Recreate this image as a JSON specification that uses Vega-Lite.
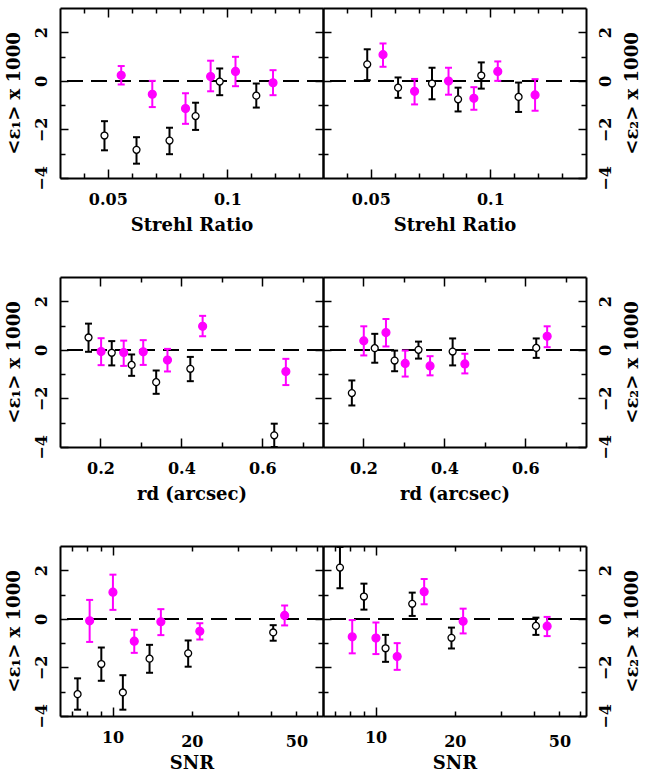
{
  "$schema": "https://vega.github.io/schema/vega-lite/v6.json",
  "padding": {"left": 5, "top": 7, "right": 5, "bottom": 5},
  "background": "white",
  "datasets": {
    "s1": [
      {"x": 0.0486, "y": -2.25, "lo": -2.86, "hi": -1.66, "grp": "o"},
      {"x": 0.062, "y": -2.84, "lo": -3.41, "hi": -2.32, "grp": "o"},
      {"x": 0.0758, "y": -2.46, "lo": -3.02, "hi": -1.93, "grp": "o"},
      {"x": 0.0867, "y": -1.45, "lo": -2.02, "hi": -0.9, "grp": "o"},
      {"x": 0.0968, "y": -0.03, "lo": -0.59, "hi": 0.51, "grp": "o"},
      {"x": 0.1121, "y": -0.61, "lo": -1.1, "hi": -0.11, "grp": "o"},
      {"x": 0.0556, "y": 0.23, "lo": -0.15, "hi": 0.61, "grp": "m"},
      {"x": 0.0686, "y": -0.55, "lo": -1.08, "hi": 0.0, "grp": "m"},
      {"x": 0.0825, "y": -1.14, "lo": -1.77, "hi": -0.51, "grp": "m"},
      {"x": 0.093, "y": 0.18, "lo": -0.43, "hi": 0.83, "grp": "m"},
      {"x": 0.1034, "y": 0.39, "lo": -0.22, "hi": 0.99, "grp": "m"},
      {"x": 0.1191, "y": -0.08, "lo": -0.59, "hi": 0.44, "grp": "m"}
    ],
    "s2": [
      {"x": 0.0485, "y": 0.68, "lo": 0.03, "hi": 1.3, "grp": "o"},
      {"x": 0.0614, "y": -0.28, "lo": -0.7, "hi": 0.14, "grp": "o"},
      {"x": 0.0756, "y": -0.11, "lo": -0.76, "hi": 0.54, "grp": "o"},
      {"x": 0.0865, "y": -0.76, "lo": -1.26, "hi": -0.28, "grp": "o"},
      {"x": 0.0962, "y": 0.22, "lo": -0.32, "hi": 0.76, "grp": "o"},
      {"x": 0.1118, "y": -0.66, "lo": -1.28, "hi": -0.07, "grp": "o"},
      {"x": 0.0551, "y": 1.08, "lo": 0.58, "hi": 1.54, "grp": "m"},
      {"x": 0.0683, "y": -0.43, "lo": -0.97, "hi": 0.08, "grp": "m"},
      {"x": 0.0825, "y": -0.01, "lo": -0.57, "hi": 0.54, "grp": "m"},
      {"x": 0.0931, "y": -0.72, "lo": -1.19, "hi": -0.26, "grp": "m"},
      {"x": 0.1031, "y": 0.39, "lo": 0.0, "hi": 0.8, "grp": "m"},
      {"x": 0.1187, "y": -0.58, "lo": -1.23, "hi": 0.07, "grp": "m"}
    ],
    "r1": [
      {"x": 0.1705, "y": 0.51, "lo": -0.08, "hi": 1.08, "grp": "o"},
      {"x": 0.2279, "y": -0.12, "lo": -0.64, "hi": 0.36, "grp": "o"},
      {"x": 0.277, "y": -0.62, "lo": -1.07, "hi": -0.19, "grp": "o"},
      {"x": 0.3377, "y": -1.33, "lo": -1.81, "hi": -0.85, "grp": "o"},
      {"x": 0.4221, "y": -0.78, "lo": -1.29, "hi": -0.29, "grp": "o"},
      {"x": 0.6295, "y": -3.52, "lo": -4.0, "hi": -3.04, "grp": "o"},
      {"x": 0.2016, "y": -0.07, "lo": -0.63, "hi": 0.48, "grp": "m"},
      {"x": 0.2574, "y": -0.11, "lo": -0.66, "hi": 0.38, "grp": "m"},
      {"x": 0.3057, "y": -0.08, "lo": -0.62, "hi": 0.4, "grp": "m"},
      {"x": 0.3656, "y": -0.42, "lo": -0.89, "hi": 0.04, "grp": "m"},
      {"x": 0.4525, "y": 0.97, "lo": 0.56, "hi": 1.4, "grp": "m"},
      {"x": 0.6582, "y": -0.89, "lo": -1.45, "hi": -0.37, "grp": "m"}
    ],
    "r2": [
      {"x": 0.1713, "y": -1.78, "lo": -2.29, "hi": -1.26, "grp": "o"},
      {"x": 0.2279, "y": 0.07, "lo": -0.53, "hi": 0.66, "grp": "o"},
      {"x": 0.277, "y": -0.44, "lo": -0.88, "hi": -0.03, "grp": "o"},
      {"x": 0.336, "y": 0.0, "lo": -0.36, "hi": 0.34, "grp": "o"},
      {"x": 0.4204, "y": -0.07, "lo": -0.64, "hi": 0.47, "grp": "o"},
      {"x": 0.627, "y": 0.08, "lo": -0.33, "hi": 0.47, "grp": "o"},
      {"x": 0.2008, "y": 0.37, "lo": -0.23, "hi": 0.97, "grp": "m"},
      {"x": 0.2556, "y": 0.71, "lo": 0.14, "hi": 1.27, "grp": "m"},
      {"x": 0.3031, "y": -0.56, "lo": -1.1, "hi": -0.03, "grp": "m"},
      {"x": 0.3646, "y": -0.66, "lo": -1.05, "hi": -0.26, "grp": "m"},
      {"x": 0.4506, "y": -0.58, "lo": -0.97, "hi": -0.16, "grp": "m"},
      {"x": 0.654, "y": 0.56, "lo": 0.11, "hi": 0.97, "grp": "m"}
    ],
    "n1": [
      {"x": 7.36, "y": -3.1, "lo": -3.74, "hi": -2.45, "grp": "o"},
      {"x": 9.06, "y": -1.86, "lo": -2.55, "hi": -1.18, "grp": "o"},
      {"x": 10.94, "y": -3.03, "lo": -3.74, "hi": -2.32, "grp": "o"},
      {"x": 13.82, "y": -1.64, "lo": -2.22, "hi": -1.07, "grp": "o"},
      {"x": 19.38, "y": -1.42, "lo": -1.97, "hi": -0.89, "grp": "o"},
      {"x": 40.8, "y": -0.56, "lo": -0.9, "hi": -0.26, "grp": "o"},
      {"x": 8.18, "y": -0.08, "lo": -0.95, "hi": 0.78, "grp": "m"},
      {"x": 10.03, "y": 1.1, "lo": 0.37, "hi": 1.82, "grp": "m"},
      {"x": 12.09, "y": -0.92, "lo": -1.4, "hi": -0.45, "grp": "m"},
      {"x": 15.26, "y": -0.12, "lo": -0.67, "hi": 0.4, "grp": "m"},
      {"x": 21.46, "y": -0.51, "lo": -0.85, "hi": -0.18, "grp": "m"},
      {"x": 45.1, "y": 0.14, "lo": -0.27, "hi": 0.55, "grp": "m"}
    ],
    "n2": [
      {"x": 7.32, "y": 2.11, "lo": 1.26, "hi": 2.96, "grp": "o"},
      {"x": 9.03, "y": 0.92, "lo": 0.38, "hi": 1.45, "grp": "o"},
      {"x": 10.91, "y": -1.21, "lo": -1.77, "hi": -0.66, "grp": "o"},
      {"x": 13.78, "y": 0.62, "lo": 0.12, "hi": 1.08, "grp": "o"},
      {"x": 19.43, "y": -0.78, "lo": -1.22, "hi": -0.36, "grp": "o"},
      {"x": 40.7, "y": -0.29, "lo": -0.66, "hi": 0.05, "grp": "o"},
      {"x": 8.15, "y": -0.74, "lo": -1.42, "hi": -0.05, "grp": "m"},
      {"x": 10.03, "y": -0.79, "lo": -1.45, "hi": -0.15, "grp": "m"},
      {"x": 12.08, "y": -1.55, "lo": -2.1, "hi": -1.0, "grp": "m"},
      {"x": 15.3, "y": 1.12, "lo": 0.6, "hi": 1.64, "grp": "m"},
      {"x": 21.52, "y": -0.1, "lo": -0.6, "hi": 0.42, "grp": "m"},
      {"x": 44.9, "y": -0.3, "lo": -0.71, "hi": 0.08, "grp": "m"}
    ]
  },
  "vconcat": [
    {
      "hconcat": [
        {
          "width": 263, "height": 170,
          "data": {"name": "s1"},
          "resolve": {"axis": {"x": "independent", "y": "independent"}},
          "layer": [
            {"mark": {"type": "rule", "strokeDash": [16, 8], "strokeWidth": 1.5, "color": "black"},
             "encoding": {"y": {"datum": 0, "type": "quantitative", "scale": {"domain": [-4, 3], "nice": false, "zero": false}, "axis": null}}},
            {"mark": {"type": "rule", "strokeWidth": 2},
             "encoding": {
               "x": {"field": "x", "type": "quantitative", "scale": {"domain": [0.03, 0.14], "nice": false, "zero": false},
                     "axis": {"orient": "bottom", "title": "Strehl Ratio", "values": [0.04, 0.05, 0.06, 0.07, 0.08, 0.09, 0.1, 0.11, 0.12, 0.13],
                              "labelExpr": "abs(datum.value-0.05)<1e-6 ? '0.05' : (abs(datum.value-0.1)<1e-6 ? '0.1' : '')",
                              "tickSize": {"condition": {"test": "abs(datum.value-0.05)<1e-6 || abs(datum.value-0.1)<1e-6", "value": -9}, "value": -5},
                              "labelPadding": 22, "titlePadding": 5}},
               "y": {"field": "lo", "type": "quantitative", "scale": {"domain": [-4, 3], "nice": false, "zero": false},
                     "axis": {"orient": "left", "title": "<ε₁> x 1000", "values": [-4, -3, -2, -1, 0, 1, 2],
                              "labelExpr": "datum.value % 2 == 0 ? datum.label : ''",
                              "tickSize": {"condition": {"test": "datum.value % 2 == 0", "value": -8}, "value": -5},
                              "labelAngle": 270, "labelAlign": "center", "labelBaseline": "bottom", "labelPadding": 19, "titlePadding": 7}},
               "y2": {"field": "hi"},
               "stroke": {"condition": {"test": "datum.grp == 'o'", "value": "black"}, "value": "#ff00ff"}}},
            {"mark": {"type": "tick", "orient": "horizontal", "size": 7, "thickness": 2, "opacity": 1},
             "encoding": {"x": {"field": "x", "type": "quantitative", "axis": null}, "y": {"field": "lo", "type": "quantitative", "axis": null},
                          "color": {"condition": {"test": "datum.grp == 'o'", "value": "black"}, "value": "#ff00ff"}}},
            {"mark": {"type": "tick", "orient": "horizontal", "size": 7, "thickness": 2, "opacity": 1},
             "encoding": {"x": {"field": "x", "type": "quantitative", "axis": null}, "y": {"field": "hi", "type": "quantitative", "axis": null},
                          "color": {"condition": {"test": "datum.grp == 'o'", "value": "black"}, "value": "#ff00ff"}}},
            {"mark": {"type": "point", "shape": "circle", "opacity": 1, "strokeWidth": 1.3},
             "encoding": {
               "x": {"field": "x", "type": "quantitative",
                     "axis": {"orient": "top", "labels": false, "title": null, "values": [0.04, 0.05, 0.06, 0.07, 0.08, 0.09, 0.1, 0.11, 0.12, 0.13],
                              "tickSize": {"condition": {"test": "abs(datum.value-0.05)<1e-6 || abs(datum.value-0.1)<1e-6", "value": -9}, "value": -5}}},
               "y": {"field": "y", "type": "quantitative",
                     "axis": {"orient": "right", "labels": false, "title": null, "values": [-3, -2, -1, 0, 1, 2],
                              "tickSize": {"condition": {"test": "datum.value % 2 == 0", "value": -8}, "value": -5}}},
               "fill": {"condition": {"test": "datum.grp == 'o'", "value": "white"}, "value": "#ff00ff"},
               "stroke": {"condition": {"test": "datum.grp == 'o'", "value": "black"}, "value": "#ff00ff"},
               "size": {"condition": {"test": "datum.grp == 'o'", "value": 48}, "value": 62}}}
          ]
        },
        {
          "width": 263, "height": 170,
          "data": {"name": "s2"},
          "resolve": {"axis": {"x": "independent", "y": "independent"}},
          "layer": [
            {"mark": {"type": "rule", "strokeDash": [16, 8], "strokeWidth": 1.5, "color": "black"},
             "encoding": {"y": {"datum": 0, "type": "quantitative", "scale": {"domain": [-4, 3], "nice": false, "zero": false}, "axis": null}}},
            {"mark": {"type": "rule", "strokeWidth": 2},
             "encoding": {
               "x": {"field": "x", "type": "quantitative", "scale": {"domain": [0.03, 0.14], "nice": false, "zero": false},
                     "axis": {"orient": "bottom", "title": "Strehl Ratio", "values": [0.04, 0.05, 0.06, 0.07, 0.08, 0.09, 0.1, 0.11, 0.12, 0.13],
                              "labelExpr": "abs(datum.value-0.05)<1e-6 ? '0.05' : (abs(datum.value-0.1)<1e-6 ? '0.1' : '')",
                              "tickSize": {"condition": {"test": "abs(datum.value-0.05)<1e-6 || abs(datum.value-0.1)<1e-6", "value": -9}, "value": -5},
                              "labelPadding": 22, "titlePadding": 5}},
               "y": {"field": "lo", "type": "quantitative", "scale": {"domain": [-4, 3], "nice": false, "zero": false},
                     "axis": {"orient": "left", "labels": false, "title": null, "values": [-3, -2, -1, 0, 1, 2],
                              "tickSize": {"condition": {"test": "datum.value % 2 == 0", "value": -8}, "value": -5}}},
               "y2": {"field": "hi"},
               "stroke": {"condition": {"test": "datum.grp == 'o'", "value": "black"}, "value": "#ff00ff"}}},
            {"mark": {"type": "tick", "orient": "horizontal", "size": 7, "thickness": 2, "opacity": 1},
             "encoding": {"x": {"field": "x", "type": "quantitative", "axis": null}, "y": {"field": "lo", "type": "quantitative", "axis": null},
                          "color": {"condition": {"test": "datum.grp == 'o'", "value": "black"}, "value": "#ff00ff"}}},
            {"mark": {"type": "tick", "orient": "horizontal", "size": 7, "thickness": 2, "opacity": 1},
             "encoding": {"x": {"field": "x", "type": "quantitative", "axis": null}, "y": {"field": "hi", "type": "quantitative", "axis": null},
                          "color": {"condition": {"test": "datum.grp == 'o'", "value": "black"}, "value": "#ff00ff"}}},
            {"mark": {"type": "point", "shape": "circle", "opacity": 1, "strokeWidth": 1.3},
             "encoding": {
               "x": {"field": "x", "type": "quantitative",
                     "axis": {"orient": "top", "labels": false, "title": null, "values": [0.04, 0.05, 0.06, 0.07, 0.08, 0.09, 0.1, 0.11, 0.12, 0.13],
                              "tickSize": {"condition": {"test": "abs(datum.value-0.05)<1e-6 || abs(datum.value-0.1)<1e-6", "value": -9}, "value": -5}}},
               "y": {"field": "y", "type": "quantitative",
                     "axis": {"orient": "right", "title": "<ε₂> x 1000", "values": [-4, -3, -2, -1, 0, 1, 2],
                              "labelExpr": "datum.value % 2 == 0 ? datum.label : ''",
                              "tickSize": {"condition": {"test": "datum.value % 2 == 0", "value": -8}, "value": -5},
                              "labelAngle": 270, "labelAlign": "center", "labelBaseline": "top", "labelPadding": 19,
                              "titleAngle": 270, "titleBaseline": "top", "titlePadding": 7}},
               "fill": {"condition": {"test": "datum.grp == 'o'", "value": "white"}, "value": "#ff00ff"},
               "stroke": {"condition": {"test": "datum.grp == 'o'", "value": "black"}, "value": "#ff00ff"},
               "size": {"condition": {"test": "datum.grp == 'o'", "value": 48}, "value": 62}}}
          ]
        }
      ],
      "spacing": 0, "bounds": "flush"
    },
    {
      "hconcat": [
        {
          "width": 263, "height": 170,
          "data": {"name": "r1"},
          "resolve": {"axis": {"x": "independent", "y": "independent"}},
          "layer": [
            {"mark": {"type": "rule", "strokeDash": [16, 8], "strokeWidth": 1.5, "color": "black"},
             "encoding": {"y": {"datum": 0, "type": "quantitative", "scale": {"domain": [-4, 3], "nice": false, "zero": false}, "axis": null}}},
            {"mark": {"type": "rule", "strokeWidth": 2},
             "encoding": {
               "x": {"field": "x", "type": "quantitative", "scale": {"domain": [0.1, 0.75], "nice": false, "zero": false},
                     "axis": {"orient": "bottom", "title": "rd (arcsec)", "values": [0.2, 0.3, 0.4, 0.5, 0.6, 0.7],
                              "labelExpr": "abs(datum.value-0.2)<1e-6 ? '0.2' : (abs(datum.value-0.4)<1e-6 ? '0.4' : (abs(datum.value-0.6)<1e-6 ? '0.6' : ''))",
                              "tickSize": {"condition": {"test": "abs(datum.value-0.2)<1e-6 || abs(datum.value-0.4)<1e-6 || abs(datum.value-0.6)<1e-6", "value": -9}, "value": -5},
                              "labelPadding": 22, "titlePadding": 5}},
               "y": {"field": "lo", "type": "quantitative", "scale": {"domain": [-4, 3], "nice": false, "zero": false},
                     "axis": {"orient": "left", "title": "<ε₁> x 1000", "values": [-4, -3, -2, -1, 0, 1, 2],
                              "labelExpr": "datum.value % 2 == 0 ? datum.label : ''",
                              "tickSize": {"condition": {"test": "datum.value % 2 == 0", "value": -8}, "value": -5},
                              "labelAngle": 270, "labelAlign": "center", "labelBaseline": "bottom", "labelPadding": 19, "titlePadding": 7}},
               "y2": {"field": "hi"},
               "stroke": {"condition": {"test": "datum.grp == 'o'", "value": "black"}, "value": "#ff00ff"}}},
            {"mark": {"type": "tick", "orient": "horizontal", "size": 7, "thickness": 2, "opacity": 1},
             "encoding": {"x": {"field": "x", "type": "quantitative", "axis": null}, "y": {"field": "lo", "type": "quantitative", "axis": null},
                          "color": {"condition": {"test": "datum.grp == 'o'", "value": "black"}, "value": "#ff00ff"}}},
            {"mark": {"type": "tick", "orient": "horizontal", "size": 7, "thickness": 2, "opacity": 1},
             "encoding": {"x": {"field": "x", "type": "quantitative", "axis": null}, "y": {"field": "hi", "type": "quantitative", "axis": null},
                          "color": {"condition": {"test": "datum.grp == 'o'", "value": "black"}, "value": "#ff00ff"}}},
            {"mark": {"type": "point", "shape": "circle", "opacity": 1, "strokeWidth": 1.3},
             "encoding": {
               "x": {"field": "x", "type": "quantitative",
                     "axis": {"orient": "top", "labels": false, "title": null, "values": [0.2, 0.3, 0.4, 0.5, 0.6, 0.7],
                              "tickSize": {"condition": {"test": "abs(datum.value-0.2)<1e-6 || abs(datum.value-0.4)<1e-6 || abs(datum.value-0.6)<1e-6", "value": -9}, "value": -5}}},
               "y": {"field": "y", "type": "quantitative",
                     "axis": {"orient": "right", "labels": false, "title": null, "values": [-3, -2, -1, 0, 1, 2],
                              "tickSize": {"condition": {"test": "datum.value % 2 == 0", "value": -8}, "value": -5}}},
               "fill": {"condition": {"test": "datum.grp == 'o'", "value": "white"}, "value": "#ff00ff"},
               "stroke": {"condition": {"test": "datum.grp == 'o'", "value": "black"}, "value": "#ff00ff"},
               "size": {"condition": {"test": "datum.grp == 'o'", "value": 48}, "value": 62}}}
          ]
        },
        {
          "width": 263, "height": 170,
          "data": {"name": "r2"},
          "resolve": {"axis": {"x": "independent", "y": "independent"}},
          "layer": [
            {"mark": {"type": "rule", "strokeDash": [16, 8], "strokeWidth": 1.5, "color": "black"},
             "encoding": {"y": {"datum": 0, "type": "quantitative", "scale": {"domain": [-4, 3], "nice": false, "zero": false}, "axis": null}}},
            {"mark": {"type": "rule", "strokeWidth": 2},
             "encoding": {
               "x": {"field": "x", "type": "quantitative", "scale": {"domain": [0.1, 0.75], "nice": false, "zero": false},
                     "axis": {"orient": "bottom", "title": "rd (arcsec)", "values": [0.2, 0.3, 0.4, 0.5, 0.6, 0.7],
                              "labelExpr": "abs(datum.value-0.2)<1e-6 ? '0.2' : (abs(datum.value-0.4)<1e-6 ? '0.4' : (abs(datum.value-0.6)<1e-6 ? '0.6' : ''))",
                              "tickSize": {"condition": {"test": "abs(datum.value-0.2)<1e-6 || abs(datum.value-0.4)<1e-6 || abs(datum.value-0.6)<1e-6", "value": -9}, "value": -5},
                              "labelPadding": 22, "titlePadding": 5}},
               "y": {"field": "lo", "type": "quantitative", "scale": {"domain": [-4, 3], "nice": false, "zero": false},
                     "axis": {"orient": "left", "labels": false, "title": null, "values": [-3, -2, -1, 0, 1, 2],
                              "tickSize": {"condition": {"test": "datum.value % 2 == 0", "value": -8}, "value": -5}}},
               "y2": {"field": "hi"},
               "stroke": {"condition": {"test": "datum.grp == 'o'", "value": "black"}, "value": "#ff00ff"}}},
            {"mark": {"type": "tick", "orient": "horizontal", "size": 7, "thickness": 2, "opacity": 1},
             "encoding": {"x": {"field": "x", "type": "quantitative", "axis": null}, "y": {"field": "lo", "type": "quantitative", "axis": null},
                          "color": {"condition": {"test": "datum.grp == 'o'", "value": "black"}, "value": "#ff00ff"}}},
            {"mark": {"type": "tick", "orient": "horizontal", "size": 7, "thickness": 2, "opacity": 1},
             "encoding": {"x": {"field": "x", "type": "quantitative", "axis": null}, "y": {"field": "hi", "type": "quantitative", "axis": null},
                          "color": {"condition": {"test": "datum.grp == 'o'", "value": "black"}, "value": "#ff00ff"}}},
            {"mark": {"type": "point", "shape": "circle", "opacity": 1, "strokeWidth": 1.3},
             "encoding": {
               "x": {"field": "x", "type": "quantitative",
                     "axis": {"orient": "top", "labels": false, "title": null, "values": [0.2, 0.3, 0.4, 0.5, 0.6, 0.7],
                              "tickSize": {"condition": {"test": "abs(datum.value-0.2)<1e-6 || abs(datum.value-0.4)<1e-6 || abs(datum.value-0.6)<1e-6", "value": -9}, "value": -5}}},
               "y": {"field": "y", "type": "quantitative",
                     "axis": {"orient": "right", "title": "<ε₂> x 1000", "values": [-4, -3, -2, -1, 0, 1, 2],
                              "labelExpr": "datum.value % 2 == 0 ? datum.label : ''",
                              "tickSize": {"condition": {"test": "datum.value % 2 == 0", "value": -8}, "value": -5},
                              "labelAngle": 270, "labelAlign": "center", "labelBaseline": "top", "labelPadding": 19,
                              "titleAngle": 270, "titleBaseline": "top", "titlePadding": 7}},
               "fill": {"condition": {"test": "datum.grp == 'o'", "value": "white"}, "value": "#ff00ff"},
               "stroke": {"condition": {"test": "datum.grp == 'o'", "value": "black"}, "value": "#ff00ff"},
               "size": {"condition": {"test": "datum.grp == 'o'", "value": 48}, "value": 62}}}
          ]
        }
      ],
      "spacing": 0, "bounds": "flush"
    },
    {
      "hconcat": [
        {
          "width": 263, "height": 170,
          "data": {"name": "n1"},
          "resolve": {"axis": {"x": "independent", "y": "independent"}},
          "layer": [
            {"mark": {"type": "rule", "strokeDash": [16, 8], "strokeWidth": 1.5, "color": "black"},
             "encoding": {"y": {"datum": 0, "type": "quantitative", "scale": {"domain": [-4, 3], "nice": false, "zero": false}, "axis": null}}},
            {"mark": {"type": "rule", "strokeWidth": 2},
             "encoding": {
               "x": {"field": "x", "type": "quantitative", "scale": {"type": "log", "domain": [6.31, 63.1], "nice": false},
                     "axis": {"orient": "bottom", "title": "SNR", "values": [7, 8, 9, 10, 20, 30, 40, 50, 60],
                              "labelExpr": "datum.value == 10 || datum.value == 20 || datum.value == 50 ? format(datum.value, 'd') : ''",
                              "tickSize": {"condition": {"test": "datum.value == 10", "value": -9}, "value": -5},
                              "labelPadding": 22, "titlePadding": 5}},
               "y": {"field": "lo", "type": "quantitative", "scale": {"domain": [-4, 3], "nice": false, "zero": false},
                     "axis": {"orient": "left", "title": "<ε₁> x 1000", "values": [-4, -3, -2, -1, 0, 1, 2],
                              "labelExpr": "datum.value % 2 == 0 ? datum.label : ''",
                              "tickSize": {"condition": {"test": "datum.value % 2 == 0", "value": -8}, "value": -5},
                              "labelAngle": 270, "labelAlign": "center", "labelBaseline": "bottom", "labelPadding": 19, "titlePadding": 7}},
               "y2": {"field": "hi"},
               "stroke": {"condition": {"test": "datum.grp == 'o'", "value": "black"}, "value": "#ff00ff"}}},
            {"mark": {"type": "tick", "orient": "horizontal", "size": 7, "thickness": 2, "opacity": 1},
             "encoding": {"x": {"field": "x", "type": "quantitative", "axis": null}, "y": {"field": "lo", "type": "quantitative", "axis": null},
                          "color": {"condition": {"test": "datum.grp == 'o'", "value": "black"}, "value": "#ff00ff"}}},
            {"mark": {"type": "tick", "orient": "horizontal", "size": 7, "thickness": 2, "opacity": 1},
             "encoding": {"x": {"field": "x", "type": "quantitative", "axis": null}, "y": {"field": "hi", "type": "quantitative", "axis": null},
                          "color": {"condition": {"test": "datum.grp == 'o'", "value": "black"}, "value": "#ff00ff"}}},
            {"mark": {"type": "point", "shape": "circle", "opacity": 1, "strokeWidth": 1.3},
             "encoding": {
               "x": {"field": "x", "type": "quantitative",
                     "axis": {"orient": "top", "labels": false, "title": null, "values": [7, 8, 9, 10, 20, 30, 40, 50, 60],
                              "tickSize": {"condition": {"test": "datum.value == 10", "value": -9}, "value": -5}}},
               "y": {"field": "y", "type": "quantitative",
                     "axis": {"orient": "right", "labels": false, "title": null, "values": [-3, -2, -1, 0, 1, 2],
                              "tickSize": {"condition": {"test": "datum.value % 2 == 0", "value": -8}, "value": -5}}},
               "fill": {"condition": {"test": "datum.grp == 'o'", "value": "white"}, "value": "#ff00ff"},
               "stroke": {"condition": {"test": "datum.grp == 'o'", "value": "black"}, "value": "#ff00ff"},
               "size": {"condition": {"test": "datum.grp == 'o'", "value": 48}, "value": 62}}}
          ]
        },
        {
          "width": 263, "height": 170,
          "data": {"name": "n2"},
          "resolve": {"axis": {"x": "independent", "y": "independent"}},
          "layer": [
            {"mark": {"type": "rule", "strokeDash": [16, 8], "strokeWidth": 1.5, "color": "black"},
             "encoding": {"y": {"datum": 0, "type": "quantitative", "scale": {"domain": [-4, 3], "nice": false, "zero": false}, "axis": null}}},
            {"mark": {"type": "rule", "strokeWidth": 2},
             "encoding": {
               "x": {"field": "x", "type": "quantitative", "scale": {"type": "log", "domain": [6.31, 63.1], "nice": false},
                     "axis": {"orient": "bottom", "title": "SNR", "values": [7, 8, 9, 10, 20, 30, 40, 50, 60],
                              "labelExpr": "datum.value == 10 || datum.value == 20 || datum.value == 50 ? format(datum.value, 'd') : ''",
                              "tickSize": {"condition": {"test": "datum.value == 10", "value": -9}, "value": -5},
                              "labelPadding": 22, "titlePadding": 5}},
               "y": {"field": "lo", "type": "quantitative", "scale": {"domain": [-4, 3], "nice": false, "zero": false},
                     "axis": {"orient": "left", "labels": false, "title": null, "values": [-3, -2, -1, 0, 1, 2],
                              "tickSize": {"condition": {"test": "datum.value % 2 == 0", "value": -8}, "value": -5}}},
               "y2": {"field": "hi"},
               "stroke": {"condition": {"test": "datum.grp == 'o'", "value": "black"}, "value": "#ff00ff"}}},
            {"mark": {"type": "tick", "orient": "horizontal", "size": 7, "thickness": 2, "opacity": 1},
             "encoding": {"x": {"field": "x", "type": "quantitative", "axis": null}, "y": {"field": "lo", "type": "quantitative", "axis": null},
                          "color": {"condition": {"test": "datum.grp == 'o'", "value": "black"}, "value": "#ff00ff"}}},
            {"mark": {"type": "tick", "orient": "horizontal", "size": 7, "thickness": 2, "opacity": 1},
             "encoding": {"x": {"field": "x", "type": "quantitative", "axis": null}, "y": {"field": "hi", "type": "quantitative", "axis": null},
                          "color": {"condition": {"test": "datum.grp == 'o'", "value": "black"}, "value": "#ff00ff"}}},
            {"mark": {"type": "point", "shape": "circle", "opacity": 1, "strokeWidth": 1.3},
             "encoding": {
               "x": {"field": "x", "type": "quantitative",
                     "axis": {"orient": "top", "labels": false, "title": null, "values": [7, 8, 9, 10, 20, 30, 40, 50, 60],
                              "tickSize": {"condition": {"test": "datum.value == 10", "value": -9}, "value": -5}}},
               "y": {"field": "y", "type": "quantitative",
                     "axis": {"orient": "right", "title": "<ε₂> x 1000", "values": [-4, -3, -2, -1, 0, 1, 2],
                              "labelExpr": "datum.value % 2 == 0 ? datum.label : ''",
                              "tickSize": {"condition": {"test": "datum.value % 2 == 0", "value": -8}, "value": -5},
                              "labelAngle": 270, "labelAlign": "center", "labelBaseline": "top", "labelPadding": 19,
                              "titleAngle": 270, "titleBaseline": "top", "titlePadding": 7}},
               "fill": {"condition": {"test": "datum.grp == 'o'", "value": "white"}, "value": "#ff00ff"},
               "stroke": {"condition": {"test": "datum.grp == 'o'", "value": "black"}, "value": "#ff00ff"},
               "size": {"condition": {"test": "datum.grp == 'o'", "value": 48}, "value": 62}}}
          ]
        }
      ],
      "spacing": 0, "bounds": "flush"
    }
  ],
  "spacing": 42,
  "config": {
    "view": {"stroke": null},
    "axis": {"grid": false, "domainColor": "black", "domainWidth": 2, "tickColor": "black", "tickWidth": 1.5,
             "labelFont": "DejaVu Serif", "labelFontSize": 16, "labelFontWeight": "bold", "labelColor": "black", "labelOverlap": false, "labelFlush": false,
             "titleFont": "DejaVu Serif", "titleFontSize": 18, "titleFontWeight": "bold", "titleColor": "black"}
  }
}
